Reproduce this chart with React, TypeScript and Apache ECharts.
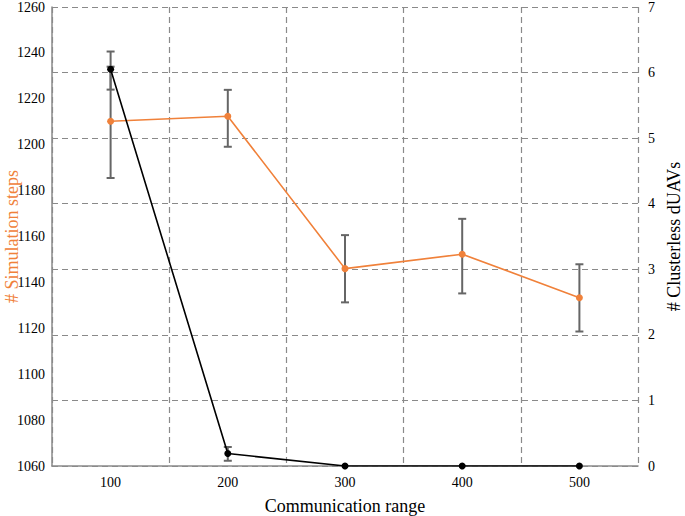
import React, { useEffect, useRef } from "react";
import * as echarts from "echarts";

const categories = ["100", "200", "300", "400", "500"];
const simSteps = [1210.2, 1212.4, 1146.0, 1152.3, 1133.3];
const simStepsLow = [1185.5, 1199.1, 1131.3, 1135.2, 1118.6];
const simStepsHigh = [1240.6, 1223.9, 1160.6, 1167.7, 1147.9];
const clusterless = [6.05, 0.19, 0, 0, 0];
const clusterlessLow = [5.74, 0.08, 0, 0, 0];
const clusterlessHigh = [6.09, 0.29, 0, 0, 0];

const FONT = "'Liberation Serif', 'DejaVu Serif', serif";
const ORANGE = "#f0813a";

function errorRender(params: any, api: any) {
  const x = api.value(0);
  const lo = api.value(1);
  const hi = api.value(2);
  if (lo === hi) return null;
  const a = api.coord([x, hi]);
  const b = api.coord([x, lo]);
  const hw = 4;
  const style = { stroke: "#666666", lineWidth: 2 };
  return {
    type: "group",
    children: [
      { type: "line", shape: { x1: a[0], y1: a[1], x2: b[0], y2: b[1] }, style },
      { type: "line", shape: { x1: a[0] - hw, y1: a[1], x2: a[0] + hw, y2: a[1] }, style },
      { type: "line", shape: { x1: b[0] - hw, y1: b[1], x2: b[0] + hw, y2: b[1] }, style },
    ],
  };
}

export default function App() {
  const ref = useRef<HTMLDivElement>(null);
  useEffect(() => {
    if (!ref.current) return;
    const chart = echarts.init(ref.current, null, { renderer: "svg" });
    const dash = { color: "#8a8a8a", width: 1.2, type: [6, 4] as any };
    chart.setOption({
      animation: false,
      textStyle: { fontFamily: FONT },
      grid: { left: 52, right: 47, top: 7, bottom: 50, outerBoundsMode: "none", containLabel: false },
      xAxis: {
        type: "category",
        data: categories,
        boundaryGap: true,
        name: "Communication range",
        nameLocation: "middle",
        nameGap: 31,
        nameMoveOverlap: false,
        nameTextStyle: { fontFamily: FONT, fontSize: 18, color: "#000" },
        axisLine: { lineStyle: { color: "#8a8a8a", width: 1.5 } },
        axisTick: { show: false },
        axisLabel: { fontFamily: FONT, fontSize: 14, color: "#000", margin: 9 },
        splitLine: { show: true, interval: 0, lineStyle: dash },
      },
      yAxis: [
        {
          type: "value",
          min: 1060,
          max: 1260,
          interval: 20,
          name: "# Simulation steps",
          nameLocation: "middle",
          nameGap: 31,
          nameMoveOverlap: false,
          nameTextStyle: { fontFamily: FONT, fontSize: 18, color: ORANGE },
          axisLine: { show: true, lineStyle: { color: "#8a8a8a", width: 1.5 } },
          axisTick: { show: false },
          axisLabel: { fontFamily: FONT, fontSize: 14, color: "#000", margin: 7, formatter: (v: number) => String(v) },
          splitLine: { show: false },
        },
        {
          type: "value",
          min: 0,
          max: 7,
          interval: 1,
          position: "right",
          name: "# Clusterless dUAVs",
          nameLocation: "middle",
          nameGap: 27,
          nameRotate: 90,
          nameMoveOverlap: false,
          nameTextStyle: { fontFamily: FONT, fontSize: 18, color: "#000" },
          axisLine: { show: false },
          axisTick: { show: false },
          axisLabel: { fontFamily: FONT, fontSize: 14, color: "#000", margin: 10 },
          splitLine: { show: true, lineStyle: dash },
        },
      ],
      series: [
        {
          type: "custom",
          yAxisIndex: 0,
          z: 2,
          renderItem: errorRender,
          encode: { x: 0, y: [1, 2] },
          data: categories.map((_, i) => [i, simStepsLow[i], simStepsHigh[i]]),
        },
        {
          type: "custom",
          yAxisIndex: 1,
          z: 2,
          renderItem: errorRender,
          encode: { x: 0, y: [1, 2] },
          data: categories.map((_, i) => [i, clusterlessLow[i], clusterlessHigh[i]]),
        },
        {
          type: "line",
          yAxisIndex: 0,
          z: 3,
          data: simSteps,
          symbol: "circle",
          symbolSize: 7,
          lineStyle: { color: ORANGE, width: 1.6 },
          itemStyle: { color: ORANGE },
        },
        {
          type: "line",
          yAxisIndex: 1,
          z: 4,
          data: clusterless,
          symbol: "circle",
          symbolSize: 7,
          lineStyle: { color: "#000", width: 1.6 },
          itemStyle: { color: "#000" },
        },
      ],
    });
    return () => chart.dispose();
  }, []);
  return <div ref={ref} style={{ width: 685, height: 516, position: "absolute", left: 0, top: 0 }} />;
}
